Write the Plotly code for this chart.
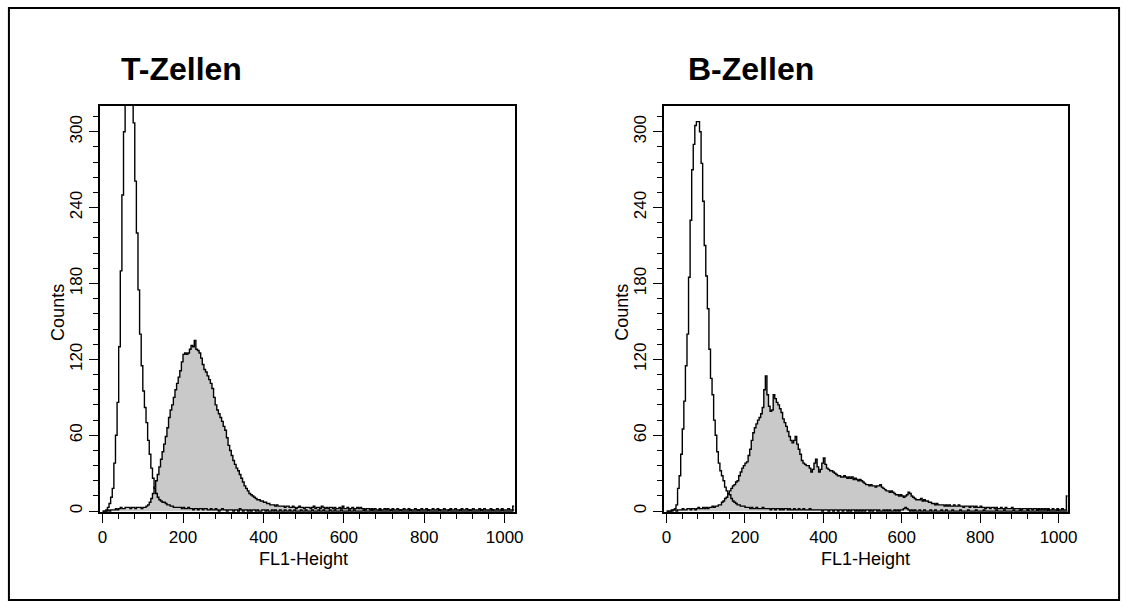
import plotly.graph_objects as go

# channel bins (4 channels wide), FL1-Height 0..1023
channels = list(range(0, 1024, 4))

t_unstained = [
    0, 0, 1, 3, 6, 11, 18, 38, 60, 86, 130, 190, 250, 300, 335, 345,
    350, 345, 338, 307, 261, 220, 175, 140, 115, 95, 82, 70, 56, 45, 34, 26,
    18, 14, 11, 9, 8, 7, 7, 6, 5, 5, 4, 4, 3, 3, 3, 3,
    3, 2, 3, 2, 2, 3, 2, 2, 1, 2, 2, 1, 2, 2, 1, 2,
    2, 1, 1, 2, 1, 1, 2, 1, 0, 1, 2, 1, 1, 0, 1, 1,
    1, 0, 1, 1, 0, 2, 1, 0, 1, 1, 0, 1, 0, 1, 1, 0,
    1, 0, 0, 1, 1, 0, 1, 0, 0, 1, 0, 1, 0, 0, 1, 0,
    0, 1, 0, 0, 1, 0, 0, 1, 0, 0, 0, 1, 0, 0, 1, 0,
    0, 0, 1, 0, 0, 0, 1, 0, 0, 1, 0, 0, 0, 1, 0, 0,
    1, 0, 0, 0, 1, 0, 0, 0, 0, 1, 0, 0, 1, 0, 0, 0,
    0, 0, 1, 0, 0, 0, 0, 1, 0, 0, 0, 0, 1, 0, 0, 0,
    0, 0, 0, 1, 0, 0, 0, 0, 0, 1, 0, 0, 0, 0, 0, 1,
    0, 0, 0, 0, 1, 0, 0, 0, 0, 0, 1, 0, 0, 0, 0, 0,
    0, 1, 0, 0, 0, 0, 0, 1, 0, 0, 0, 0, 0, 0, 1, 0,
    0, 0, 0, 0, 1, 0, 0, 0, 0, 0, 0, 1, 0, 0, 0, 0,
    0, 0, 1, 0, 0, 0, 0, 0, 1, 0, 0, 0, 0, 0, 0, 1,
]

t_stained = [
    0, 0, 0, 1, 0, 1, 1, 1, 2, 1, 2, 3, 2, 2, 3, 3,
    3, 2, 3, 3, 2, 3, 3, 3, 2, 3, 3, 4, 5, 7, 10, 14,
    19, 24, 29, 35, 41, 47, 53, 59, 66, 74, 80, 84, 90, 96, 101, 106,
    111, 118, 124, 125, 124, 125, 128, 131, 130, 135, 128, 127, 125, 121, 116, 112,
    110, 107, 104, 101, 97, 90, 84, 80, 77, 74, 71, 67, 64, 58, 52, 48,
    44, 40, 37, 34, 32, 29, 26, 23, 20, 18, 16, 14, 13, 12, 11, 10,
    9, 9, 8, 8, 7, 7, 6, 6, 5, 5, 5, 4, 5, 4, 4, 4,
    4, 3, 4, 4, 3, 3, 4, 3, 2, 3, 4, 3, 3, 2, 3, 3,
    3, 2, 3, 4, 2, 3, 3, 2, 4, 3, 2, 3, 2, 3, 3, 2,
    3, 2, 2, 3, 2, 4, 2, 2, 3, 2, 2, 3, 2, 2, 3, 2,
    3, 2, 2, 1, 2, 2, 1, 2, 1, 2, 1, 1, 2, 1, 1, 2,
    1, 2, 1, 1, 2, 1, 1, 2, 1, 1, 1, 2, 1, 1, 2, 1,
    1, 1, 2, 1, 1, 1, 2, 1, 1, 2, 1, 1, 1, 2, 1, 1,
    2, 1, 1, 1, 2, 1, 1, 1, 2, 1, 1, 2, 1, 1, 1, 2,
    1, 1, 2, 1, 1, 1, 2, 1, 1, 1, 2, 1, 1, 2, 1, 1,
    1, 2, 1, 1, 1, 2, 1, 1, 2, 1, 1, 1, 2, 1, 1, 4,
]

b_unstained = [
    0, 0, 0, 1, 1, 2, 5, 18, 28, 45, 65, 87, 115, 140, 185, 230,
    270, 290, 305, 308, 308, 300, 275, 245, 210, 186, 160, 128, 105, 92, 72, 60,
    47, 38, 32, 28, 24, 19, 16, 14, 13, 10, 8, 7, 6, 5, 5, 4,
    4, 4, 3, 3, 3, 2, 3, 2, 2, 3, 2, 2, 2, 3, 2, 2,
    2, 2, 1, 2, 2, 1, 2, 2, 1, 2, 1, 2, 2, 1, 2, 1,
    1, 2, 1, 1, 2, 1, 1, 2, 1, 1, 1, 2, 1, 1, 1, 1,
    1, 1, 1, 0, 1, 1, 1, 0, 1, 1, 0, 1, 1, 0, 1, 1,
    0, 1, 1, 0, 1, 0, 1, 1, 0, 1, 0, 1, 0, 1, 0, 1,
    1, 0, 1, 0, 1, 1, 0, 1, 0, 0, 1, 0, 1, 0, 1, 0,
    0, 1, 0, 1, 0, 1, 1, 2, 3, 2, 1, 0, 1, 0, 1, 0,
    0, 1, 0, 0, 1, 0, 0, 0, 1, 0, 0, 1, 0, 0, 0, 1,
    0, 0, 1, 0, 0, 0, 1, 0, 0, 0, 0, 1, 0, 0, 0, 0,
    1, 0, 0, 0, 0, 1, 0, 0, 0, 0, 1, 0, 0, 0, 0, 0,
    0, 0, 1, 0, 0, 0, 0, 1, 0, 0, 0, 0, 0, 1, 0, 0,
    0, 1, 0, 0, 0, 0, 1, 0, 0, 0, 0, 0, 1, 0, 0, 0,
    0, 0, 0, 1, 0, 0, 0, 0, 0, 1, 0, 0, 0, 0, 0, 0,
]

b_stained = [
    0, 0, 0, 0, 1, 1, 0, 1, 1, 1, 2, 1, 1, 2, 2, 1,
    2, 2, 1, 2, 3, 2, 2, 3, 2, 3, 2, 3, 3, 4, 3, 4,
    4, 5, 5, 7, 8, 10, 11, 14, 16, 18, 20, 21, 23, 24, 28, 31,
    34, 36, 38, 39, 44, 49, 56, 62, 66, 69, 72, 74, 77, 82, 96, 107,
    92, 83, 79, 80, 92, 89, 86, 84, 81, 78, 73, 70, 67, 63, 59, 56,
    54, 56, 59, 53, 49, 45, 40, 38, 37, 36, 36, 34, 31, 33, 38, 41,
    35, 31, 33, 38, 42, 37, 34, 33, 32, 32, 31, 30, 29, 28, 28, 27,
    27, 28, 27, 26, 27, 26, 27, 25, 26, 25, 24, 25, 24, 23, 22, 21,
    21, 20, 21, 20, 20, 19, 20, 20, 21, 19, 18, 17, 16, 16, 15, 16,
    15, 14, 13, 13, 12, 13, 12, 11, 12, 13, 15, 14, 12, 11, 10, 9,
    9, 9, 10, 8, 9, 8, 8, 7, 7, 6, 6, 5, 6, 5, 5, 5,
    5, 4, 5, 4, 5, 4, 4, 5, 4, 4, 5, 4, 4, 3, 4, 4,
    4, 3, 4, 4, 3, 4, 3, 3, 4, 3, 3, 2, 3, 3, 2, 3,
    3, 2, 3, 2, 2, 3, 2, 2, 3, 2, 2, 2, 3, 2, 2, 2,
    2, 2, 1, 2, 2, 2, 1, 2, 2, 1, 2, 2, 1, 2, 1, 2,
    1, 2, 1, 2, 1, 1, 2, 1, 1, 2, 1, 1, 2, 1, 1, 12,
]

panel_titles = ["T-Zellen", "B-Zellen"]
x_title = "FL1-Height"
y_title = "Counts"
x_tickvals = [0, 200, 400, 600, 800, 1000]
y_tickvals = [0, 60, 120, 180, 240, 300]

W, H = 1136, 610
FONT = "Liberation Sans, Arial, Helvetica, sans-serif"


def px(x):
    return x / W


def py(y):
    return 1 - y / H


def step(vals):
    return channels + [1024], vals + [vals[-1]]


fig = go.Figure()

panels = [
    (t_stained, t_unstained, "x", "y"),
    (b_stained, b_unstained, "x2", "y2"),
]
for stained, unstained, xa, ya in panels:
    xs, ys = step(stained)
    fig.add_trace(go.Scatter(
        x=xs, y=ys, mode="lines", line=dict(color="black", width=1.4, shape="hv"),
        fill="tozeroy", fillcolor="#c9c9c9", xaxis=xa, yaxis=ya, showlegend=False,
        hoverinfo="skip"))
    xs, ys = step(unstained)
    fig.add_trace(go.Scatter(
        x=xs, y=ys, mode="lines", line=dict(color="black", width=1.4, shape="hv"),
        xaxis=xa, yaxis=ya, showlegend=False, hoverinfo="skip"))

ydom = [py(513), py(106)]
common_x = dict(
    showline=True, linecolor="black", linewidth=1.5, mirror=True,
    ticks="outside", ticklen=9, tickwidth=1.3, tickcolor="black",
    tickvals=x_tickvals, showgrid=False, zeroline=False,
    tickfont=dict(family=FONT, size=17, color="black"),
    minor=dict(ticks="outside", ticklen=5, tickwidth=1.3, tickcolor="black",
               dtick=40, tick0=0, showgrid=False),
)
common_y = dict(
    showline=True, linecolor="black", linewidth=1.5, mirror=True,
    ticks="outside", ticklen=9, tickwidth=1.3, tickcolor="black",
    tickvals=y_tickvals, showgrid=False, zeroline=False, tickangle=-90,
    tickfont=dict(family=FONT, size=17, color="black"),
    minor=dict(ticks="outside", ticklen=5, tickwidth=1.3, tickcolor="black",
               dtick=12, tick0=0, showgrid=False),
    range=[-0.8, 320.5], domain=ydom,
)

fig.update_layout(
    width=W, height=H, margin=dict(l=0, r=0, t=0, b=0),
    paper_bgcolor="white", plot_bgcolor="white",
    xaxis=dict(common_x, domain=[px(99), px(518)], range=[-6.6, 1024.6], anchor="y"),
    yaxis=dict(common_y, anchor="x"),
    xaxis2=dict(common_x, domain=[px(669), px(1077)], range=[-6.8, 1023.2], anchor="y2"),
    yaxis2=dict(common_y, anchor="x2"),
    font=dict(family=FONT, color="black"),
    shapes=[dict(type="rect", xref="paper", yref="paper",
                 x0=px(7), x1=px(1129), y0=py(601), y1=py(8),
                 line=dict(color="black", width=2))],
)

ann = []
for title, cx in zip(panel_titles, [181, 757]):
    ann.append(dict(text="<b>%s</b>" % title, x=px(cx), y=py(69), xref="paper", yref="paper",
                    showarrow=False, xanchor="center", yanchor="middle",
                    font=dict(family=FONT, size=32, color="black")))
for cx in [305, 873]:
    ann.append(dict(text=x_title, x=px(cx), y=py(560), xref="paper", yref="paper",
                    showarrow=False, xanchor="center", yanchor="middle",
                    font=dict(family=FONT, size=18, color="black")))
for cx in [57, 627]:
    ann.append(dict(text=y_title, x=px(cx), y=py(313), xref="paper", yref="paper",
                    showarrow=False, xanchor="center", yanchor="middle", textangle=-90,
                    font=dict(family=FONT, size=18, color="black")))
fig.update_layout(annotations=ann)

fig.write_html("out.html")
